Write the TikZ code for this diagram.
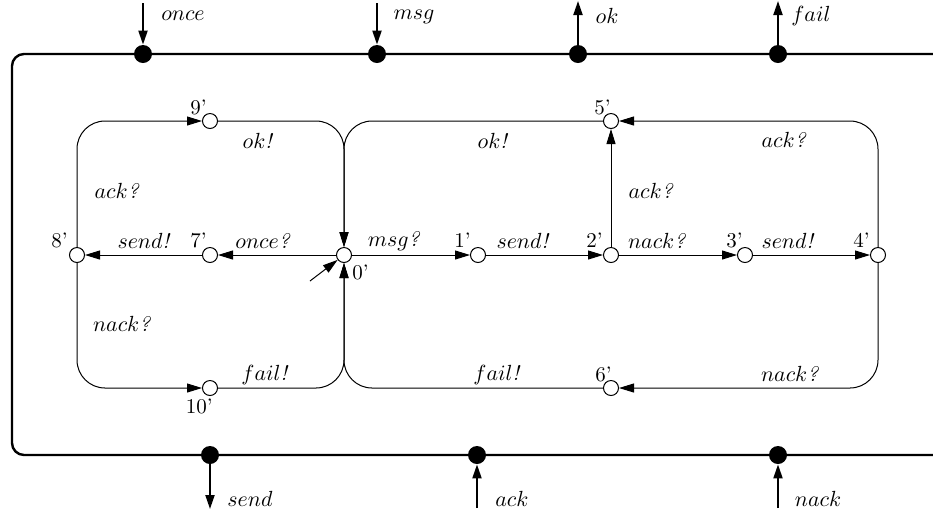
\documentclass[tikz,border=0pt]{standalone}
\usetikzlibrary{arrows.meta}
\newcommand{\qm}{\textit{?}}
\newcommand{\xm}{\textit{!}}
\begin{document}
\begin{tikzpicture}[x=0.5pt,y=-0.5pt,
  font=\fontsize{10.5}{12}\selectfont,
  state/.style={circle,draw,fill=white,minimum size=7.5pt,inner sep=0pt,line width=0.5pt},
  port/.style={circle,fill=black,minimum size=9pt,inner sep=0pt},
  edge/.style={-{Triangle[length=7.5pt,width=4.5pt]},line width=0.5pt},
  redge/.style={edge,rounded corners=14pt},
  portarrow/.style={-{Triangle[length=7pt,width=4.5pt]},line width=1pt},
  outerbox/.style={line width=1.2pt,rounded corners=6pt},
  slabel/.style={inner sep=0pt},
  elabel/.style={inner sep=0pt}]
\useasboundingbox (0,0) rectangle (933,511);
% outer box
\draw[outerbox] (945,54) -- (12,54) -- (12,455) -- (945,455);
% ports
\node[port] (pOnce) at (143,54) {};
\node[port] (pMsg) at (377,54) {};
\node[port] (pOk) at (578,54) {};
\node[port] (pFail) at (778,54) {};
\node[port] (pSend) at (210,455) {};
\node[port] (pAck) at (477,455) {};
\node[port] (pNack) at (778,455) {};
\coordinate (cOnce) at (143,3);
\coordinate (cMsg) at (377,3);
\coordinate (cOk) at (578,1);
\coordinate (cFail) at (778,1);
\coordinate (cSend) at (210,509);
\coordinate (cAck) at (477,508);
\coordinate (cNack) at (778,508);
\draw[portarrow] (cOnce) -- (pOnce);
\draw[portarrow] (cMsg) -- (pMsg);
\draw[portarrow] (pOk) -- (cOk);
\draw[portarrow] (pFail) -- (cFail);
\draw[portarrow] (pSend) -- (cSend);
\draw[portarrow] (cAck) -- (pAck);
\draw[portarrow] (cNack) -- (pNack);
\node[elabel] (lOnce) at (183,16) {$once$};
\node[elabel] (lMsg) at (414,17) {$msg$};
\node[elabel] (lOk) at (607,16) {$ok$};
\node[elabel] (lFail) at (811,16) {$fail$};
\node[elabel] (lSend) at (250,499) {$send$};
\node[elabel] (lAck) at (512,499) {$ack$};
\node[elabel] (lNack) at (818,499) {$nack$};
% states
\node[state] (n0) at (344,255) {};
\node[state] (n1) at (478,255) {};
\node[state] (n2) at (611,255) {};
\node[state] (n3) at (745,255) {};
\node[state] (n4) at (878,255) {};
\node[state] (n5) at (611,121) {};
\node[state] (n6) at (611,388) {};
\node[state] (n7) at (210,255) {};
\node[state] (n8) at (77,255) {};
\node[state] (n9) at (210,121) {};
\node[state] (n10) at (210,388) {};
% state labels
\node[slabel,anchor=south east] (s9) at (207,115) {9'};
\node[slabel,anchor=south east] (s5) at (611,115) {5'};
\node[slabel,anchor=south east] (s8) at (68,248) {8'};
\node[slabel,anchor=south east] (s7) at (207,248) {7'};
\node[slabel,anchor=south east] (s1) at (471,248) {1'};
\node[slabel,anchor=south east] (s2) at (603,248) {2'};
\node[slabel,anchor=south east] (s3) at (743,248) {3'};
\node[slabel,anchor=south east] (s4) at (870,248) {4'};
\node[slabel,anchor=south east] (s6) at (612,382) {6'};
\node[slabel,anchor=north west] (s0) at (352,265) {0'};
\node[slabel,anchor=north east] (s10) at (213,399) {10'};
% transitions
\coordinate (init) at (310,281);
\draw[edge] (init) -- (n0);
\draw[edge] (n0) -- (n1);
\draw[edge] (n1) -- (n2);
\draw[edge] (n2) -- (n3);
\draw[edge] (n3) -- (n4);
\draw[edge] (n2) -- (n5);
\draw[redge] (n4) |- (n5);
\draw[redge] (n4) |- (n6);
\draw[redge] (n5) -| (n0);
\draw[redge] (n6) -| (n0);
\draw[edge] (n0) -- (n7);
\draw[edge] (n7) -- (n8);
\draw[redge] (n8) |- (n9);
\draw[redge] (n8) |- (n10);
\draw[redge] (n9) -| (n0);
\draw[redge] (n10) -| (n0);
% transition labels
\node[elabel] (t1) at (258,141) {$ok$\xm};
\node[elabel] (t2) at (117,191) {$ack$\qm};
\node[elabel] (t3) at (144,241) {$send$\xm};
\node[elabel] (t4) at (263,241) {$once$\qm};
\node[elabel] (t5) at (394,241) {$msg$\qm};
\node[elabel] (t6) at (523,241) {$send$\xm};
\node[elabel] (t7) at (657,241) {$nack$\qm};
\node[elabel] (t8) at (788,241) {$send$\xm};
\node[elabel] (t9) at (493,141) {$ok$\xm};
\node[elabel] (t10) at (784,140) {$ack$\qm};
\node[elabel] (t11) at (651,191) {$ack$\qm};
\node[elabel] (t12) at (122,324) {$nack$\qm};
\node[elabel] (t13) at (265,375) {$fail$\xm};
\node[elabel] (t14) at (497,375) {$fail$\xm};
\node[elabel] (t15) at (790,374) {$nack$\qm};
\end{tikzpicture}
\end{document}
